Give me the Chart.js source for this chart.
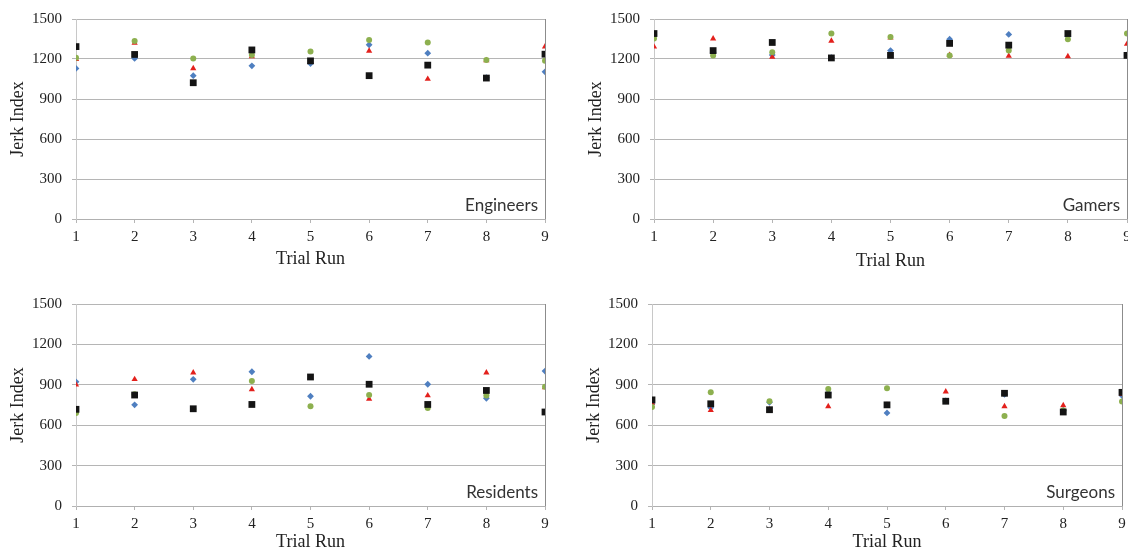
<!DOCTYPE html>
<html>
<head>
<meta charset="utf-8">
<title>Jerk Index by Trial Run</title>
<script src="https://cdn.jsdelivr.net/npm/chart.js@4.4.0/dist/chart.umd.min.js"></script>
<style>
  body { margin: 0; background: #fff; overflow: hidden; width: 1128px; height: 551px; position: relative; }
  canvas { position: absolute; }
</style>
</head>
<body>
<canvas id="engineersChart" width="560" height="275" style="left:0;top:0"></canvas>
<canvas id="gamersChart" width="565" height="275" style="left:578px;top:0"></canvas>
<canvas id="residentsChart" width="560" height="275" style="left:0;top:285px"></canvas>
<canvas id="surgeonsChart" width="562" height="275" style="left:576px;top:285px"></canvas>
<script>
// Shared axes
const trialRuns = [1, 2, 3, 4, 5, 6, 7, 8, 9];
const jerkTicks = [0, 300, 600, 900, 1200, 1500];

// Engineers
const engineersBlue = [1129, 1204, 1075, 1149, 1166, 1306, 1244, 1060, 1104];
const engineersRed = [1199, 1320, 1129, 1219, 1180, 1261, 1050, 1190, 1293];
const engineersGreen = [1210, 1335, 1204, 1230, 1256, 1343, 1323, 1192, 1186];
const engineersBlack = [1293, 1234, 1022, 1268, 1186, 1075, 1154, 1057, 1236];

// Gamers
const gamersBlue = [1380, 1250, 1230, 1210, 1263, 1348, 1384, 1370, 1230];
const gamersRed = [1292, 1353, 1215, 1336, 1360, 1230, 1222, 1220, 1312];
const gamersGreen = [1353, 1227, 1251, 1391, 1365, 1227, 1263, 1348, 1391];
const gamersBlack = [1391, 1263, 1324, 1208, 1227, 1317, 1304, 1391, 1227];

// Residents
const residentsBlue = [922, 751, 941, 997, 815, 1111, 904, 800, 1002];
const residentsRed = [900, 941, 990, 866, 955, 795, 820, 990, 880];
const residentsGreen = [691, 830, 720, 929, 740, 824, 727, 820, 885];
const residentsBlack = [718, 824, 722, 754, 958, 904, 754, 858, 698];

// Surgeons
const surgeonsBlue = [760, 730, 770, 840, 691, 780, 830, 710, 820];
const surgeonsRed = [765, 711, 715, 740, 750, 849, 740, 747, 830];
const surgeonsGreen = [735, 844, 778, 868, 875, 780, 669, 710, 776];
const surgeonsBlack = [788, 759, 715, 824, 751, 778, 837, 698, 844];

const SERIF = 'Liberation Serif';

/**
 * Group name written in the lower right corner of the plot
 */
const groupLabel = {
  id: 'groupLabel',
  afterDatasetsDraw(chart, args, opts) {
    const { ctx, chartArea } = chart;
    ctx.save();
    ctx.font = '17px Lato';
    ctx.fillStyle = '#333333';
    ctx.textAlign = 'right';
    ctx.textBaseline = 'alphabetic';
    ctx.fillText(opts.text, chartArea.right - 7, chartArea.bottom - 8);
    ctx.restore();
  },
};

function series(label, values, pointStyle, color, radius, order) {
  return {
    label,
    data: values.map((v, i) => ({ x: trialRuns[i], y: v })),
    pointStyle,
    backgroundColor: color,
    borderColor: color,
    borderWidth: 0,
    pointRadius: radius,
    order,
  };
}

/**
 * Build one panel
 */
function makePanel(id, name, blue, red, green, black, pad) {
  const ctx = document.getElementById(id).getContext('2d');
  return new Chart(ctx, {
    type: 'scatter',
    data: {
      datasets: [
        series('Blue', blue, 'rectRot', '#4f7fc0', 3.4, 3),
        series('Red', red, 'triangle', '#e3201c', 3.6, 2),
        series('Green', green, 'circle', '#8db04f', 3, 1),
        series('Black', black, 'rect', '#141414', 4.8, 0),
      ],
    },
    options: {
      responsive: false,
      animation: false,
      layout: { padding: { top: pad.top, right: pad.right, left: 0, bottom: 0 } },
      plugins: {
        legend: { display: false },
        tooltip: { enabled: false },
        groupLabel: { text: name },
      },
      scales: {
        x: {
          type: 'linear',
          min: trialRuns[0],
          max: trialRuns[trialRuns.length - 1],
          afterBuildTicks: (s) => { s.ticks = trialRuns.map((v) => ({ value: v })); },
          ticks: {
            color: '#222222',
            font: { family: SERIF, size: 15 },
            padding: 5,
            callback: (v) => String(v),
          },
          grid: {
            color: (c) => (c.index === trialRuns.length - 1 ? '#8c8c8c' : 'rgba(0,0,0,0)'),
            tickColor: '#b5b5b5',
            tickLength: 4,
          },
          border: { display: true, color: '#b0b0b0' },
          title: {
            display: true,
            text: 'Trial Run',
            color: '#222222',
            font: { family: SERIF, size: 18, lineHeight: 1 },
            padding: { top: 0, bottom: pad.title },
          },
          afterFit: (s) => { s.height = pad.xHeight; },
        },
        y: {
          min: jerkTicks[0],
          max: jerkTicks[jerkTicks.length - 1],
          afterBuildTicks: (s) => { s.ticks = jerkTicks.map((v) => ({ value: v })); },
          ticks: {
            color: '#222222',
            font: { family: SERIF, size: 15 },
            padding: 10,
            callback: (v) => String(v),
          },
          grid: { color: '#b5b5b5', tickLength: 4 },
          border: { display: true, color: '#c8c8c8' },
          title: {
            display: true,
            text: 'Jerk Index',
            color: '#222222',
            font: { family: SERIF, size: 18, lineHeight: 1 },
            padding: { top: 9, bottom: 0 },
          },
          afterFit: (s) => { s.width = 76; },
        },
      },
    },
    plugins: [groupLabel],
  });
}

makePanel('engineersChart', 'Engineers', engineersBlue, engineersRed, engineersGreen, engineersBlack,
  { top: 17, right: 15, xHeight: 56, title: 7 });
makePanel('gamersChart', 'Gamers', gamersBlue, gamersRed, gamersGreen, gamersBlack,
  { top: 15, right: 16, xHeight: 56, title: 5 });
makePanel('residentsChart', 'Residents', residentsBlue, residentsRed, residentsGreen, residentsBlack,
  { top: 15, right: 15, xHeight: 54, title: 9 });
makePanel('surgeonsChart', 'Surgeons', surgeonsBlue, surgeonsRed, surgeonsGreen, surgeonsBlack,
  { top: 15, right: 16, xHeight: 54, title: 9 });
</script>
</body>
</html>
